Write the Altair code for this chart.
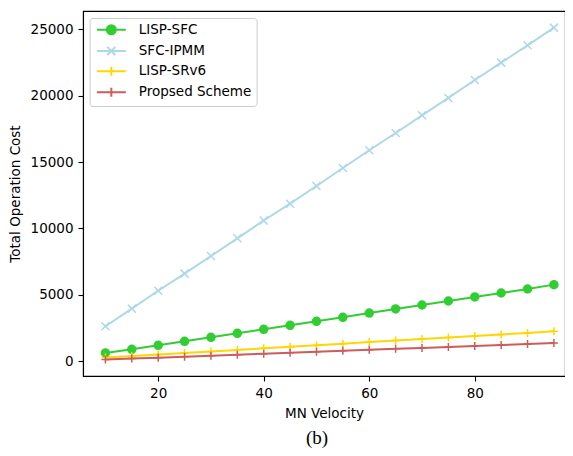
import altair as alt
import pandas as pd

velocity = [10, 15, 20, 25, 30, 35, 40, 45, 50, 55, 60, 65, 70, 75, 80, 85, 90, 95]
lisp_sfc = [627, 904, 1205, 1506, 1807, 2108, 2410, 2711, 3012, 3313, 3630, 3940, 4240, 4541, 4850, 5144, 5445, 5773]
sfc_ipmm = [2636, 3968, 5310, 6600, 7930, 9262, 10600, 11870, 13200, 14556, 15889, 17194, 18524, 19830, 21180, 22490, 23795, 25126]
lisp_srv6 = [280, 395, 510, 630, 745, 860, 975, 1095, 1210, 1325, 1445, 1560, 1675, 1790, 1910, 2025, 2140, 2260]
proposed = [130, 205, 275, 350, 425, 500, 570, 645, 720, 790, 865, 940, 1010, 1085, 1160, 1230, 1305, 1380]

names = ["LISP-SFC", "SFC-IPMM", "LISP-SRv6", "Propsed Scheme"]
colors = ["#32cd32", "#add8e6", "#ffd700", "#cd5c5c"]

series = [lisp_sfc, sfc_ipmm, lisp_srv6, proposed]
rows = []
for name, vals in zip(names, series):
    for v, c in zip(velocity, vals):
        rows.append({"velocity": v, "cost": c, "series": name})
df = pd.DataFrame(rows)

circle = "M-1,0A1,1 0 1,1 1,0A1,1 0 1,1 -1,0Z"
xmark = "M-1,-1L1,1M-1,1L1,-1"
plus = "M-1,0L1,0M0,-1L0,1"
marker_paths = [circle, xmark, plus, plus]

# legend symbols: line segment + marker (units scaled by sqrt(size)/2)
c0 = 2.22
leg_line = "M-1,0L5.44,0"
leg_circle = f"{leg_line}M{c0-1},0A1,1 0 1,1 {c0+1},0A1,1 0 1,1 {c0-1},0Z"
leg_x = f"{leg_line}M{c0-0.9},-0.9L{c0+0.9},0.9M{c0-0.9},0.9L{c0+0.9},-0.9"
leg_plus = f"{leg_line}M{c0},-1L{c0},1"
legend_paths = [leg_circle, leg_x, leg_plus, leg_plus]

FONT = "DejaVu Sans"

x_enc = alt.X("velocity:Q", scale=alt.Scale(domain=[5.75, 97.1], nice=False, zero=False),
              axis=alt.Axis(title="MN Velocity", values=[20, 40, 60, 80], grid=False))
y_enc = alt.Y("cost:Q", scale=alt.Scale(domain=[-1107, 26378], nice=False, zero=False),
              axis=alt.Axis(title="Total Operation Cost", values=[0, 5000, 10000, 15000, 20000, 25000],
                            format="d", grid=False))

col_scale = alt.Scale(domain=names, range=colors)

lines = alt.Chart(df).mark_line(strokeWidth=2).encode(
    x=x_enc, y=y_enc,
    stroke=alt.Stroke("series:N", scale=col_scale, legend=None),
    detail="series:N",
)

points = alt.Chart(df).mark_point(filled=True, size=64, strokeWidth=1.5, opacity=1).encode(
    x=x_enc, y=y_enc,
    fill=alt.Fill("series:N", scale=col_scale, legend=None),
    stroke=alt.Stroke("series:N", scale=col_scale, legend=None),
    shape=alt.Shape("series:N", scale=alt.Scale(domain=names, range=marker_paths), legend=None),
)

legend = alt.Legend(
    title=None, orient="none", legendX=6.6, legendY=7,
    padding=5, symbolSize=81, symbolStrokeWidth=2, labelOffset=30.7, symbolOpacity=1,
    labelFont=FONT, labelFontSize=13.5, labelColor="black", rowPadding=3.2,
    strokeColor="#cccccc", fillColor="rgba(255,255,255,0.8)", cornerRadius=3,
)

leg_layer = alt.Chart(df).transform_filter("false").mark_point(filled=True, strokeWidth=1.5, opacity=1).encode(
    x=x_enc, y=y_enc,
    fill=alt.Fill("series:N", scale=col_scale, legend=legend),
    stroke=alt.Stroke("series:N", scale=col_scale, legend=legend),
    shape=alt.Shape("series:N", scale=alt.Scale(domain=names, range=legend_paths), legend=legend),
)

chart = alt.layer(lines, points, leg_layer).resolve_scale(
    fill="independent", stroke="independent", shape="independent"
).properties(
    width=482, height=365,
    padding={"left": 75, "top": 3, "right": 0, "bottom": 72},
    autosize=alt.AutoSizeParams(type="none"),
    title=alt.TitleParams("(b)", orient="bottom", font="Liberation Serif", fontSize=19,
                          fontWeight="normal", color="black", offset=9, dx=-7),
).configure_view(stroke="black", strokeWidth=1.1).configure_axis(
    domainColor="black", domainWidth=1.1, tickColor="black", tickWidth=1.1, tickSize=5,
    labelFont=FONT, labelFontSize=13.5, labelColor="black", labelPadding=5,
    titleFont=FONT, titleFontSize=13.5, titleColor="black", titleFontWeight="normal",
).configure_axisX(titlePadding=7).configure_axisY(titlePadding=8)

chart.save("out.html", embed_options={"renderer": "svg", "actions": False})
